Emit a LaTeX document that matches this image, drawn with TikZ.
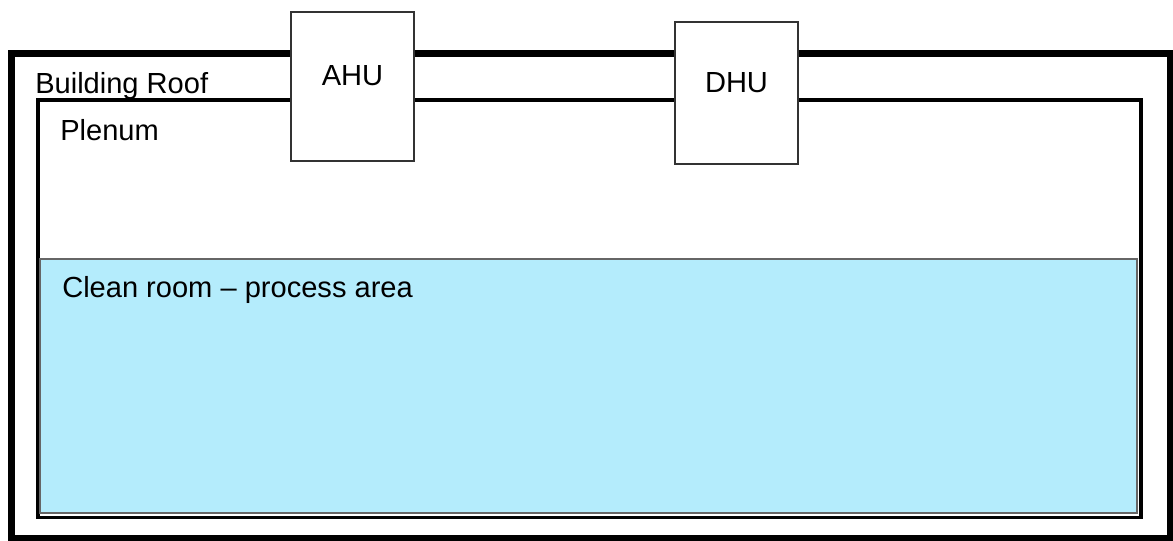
\documentclass[tikz,border=0pt]{standalone}
\usepackage{fontspec}
\setmainfont{Liberation Sans}
\definecolor{cleanfill}{HTML}{B4ECFC}
\begin{document}
\begin{tikzpicture}[x=0.75pt,y=-0.75pt,
  roofline/.style={line width=5.25pt},
  plenumline/.style={line width=2.6pt},
  cleanroom/.style={fill=cleanfill, draw=black!60, line width=0.9pt},
  unitbox/.style={draw=black!80, line width=1pt, fill=white, inner sep=0pt,
    minimum width=92.25pt},
  lbl/.style={inner sep=0pt, font=\fontsize{21.8pt}{26pt}\selectfont}]
  \useasboundingbox (0,0) rectangle (1173,540);
  % building envelope, plenum and process area
  \draw[roofline] (11,53) rectangle (1170.5,538.5);
  \draw[plenumline] (38,100) rectangle (1141,517.5);
  \draw[cleanroom] (40,259) rectangle (1137,513);
  % roof-mounted units
  \node[unitbox, minimum height=111.75pt] (ahu) at (352.5,86.5) {};
  \node[unitbox, minimum height=106.5pt] (dhu) at (736.5,93) {};
  % labels
  \node[lbl, anchor=base] (ahulbl) at (352.5,85) {AHU};
  \node[lbl, anchor=base] (dhulbl) at (736.5,92) {DHU};
  \node[lbl, anchor=base west] (roof) at (35,93) {Building Roof};
  \node[lbl, anchor=base west] (plenum) at (60,140) {Plenum};
  \node[lbl, anchor=base west] (clean) at (62,297) {Clean room – process area};
\end{tikzpicture}
\end{document}
